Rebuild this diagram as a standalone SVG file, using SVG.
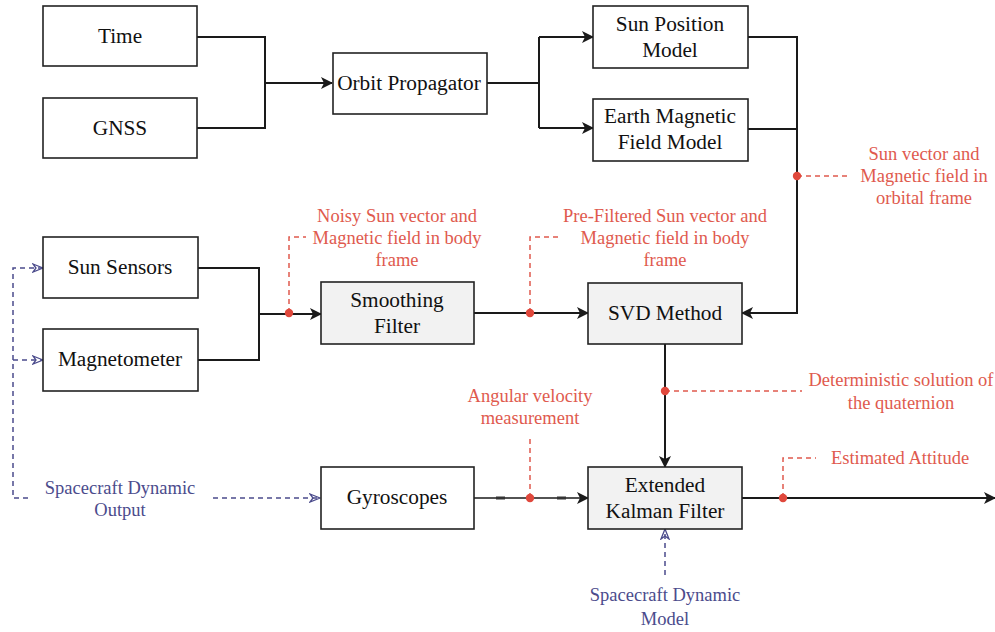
<svg xmlns="http://www.w3.org/2000/svg" width="995" height="632" viewBox="0 0 995 632">
<defs>
<style>
.box{fill:#ffffff;stroke:#222222;stroke-width:1.6}
.gbox{fill:#f2f2f2;stroke:#222222;stroke-width:1.6}
.bt{font-family:'Liberation Serif','Times New Roman',serif;font-size:21.3px;fill:#111111;text-anchor:middle}
.rt{font-family:'Liberation Serif','Times New Roman',serif;font-size:18.5px;fill:#e05a4e;text-anchor:middle}
.pt{font-family:'Liberation Serif','Times New Roman',serif;font-size:18.5px;fill:#4b4b8c;text-anchor:middle}
.ln{fill:none;stroke:#1a1a1a;stroke-width:2}
.rd{fill:none;stroke:#e05a4e;stroke-width:1.5;stroke-dasharray:5 4}
.bd{fill:none;stroke:#4b4b8c;stroke-width:1.5;stroke-dasharray:5 4}
.dot{fill:#e0483c}
</style>
<marker id="ah" viewBox="0 0 12 12" refX="11" refY="6" markerWidth="12" markerHeight="12" markerUnits="userSpaceOnUse" orient="auto">
<path d="M0,0 L12,6 L0,12 L3,6 Z" fill="#1a1a1a"/>
</marker>
<marker id="ob" viewBox="0 0 12 10" refX="11" refY="5" markerWidth="12" markerHeight="10" markerUnits="userSpaceOnUse" orient="auto">
<path d="M1,1 L11,5 L1,9 L4,5 Z" fill="none" stroke="#4b4b8c" stroke-width="1.3"/>
</marker>
</defs>
<rect width="995" height="632" fill="#ffffff"/>

<g id="connectors">
<path class="ln" d="M197,37 H265 V128 H197"/>
<path class="ln" d="M265,83 H332" marker-end="url(#ah)"/>
<path class="ln" d="M487,83 H539"/>
<path class="ln" d="M539,37 V128"/>
<path class="ln" d="M539,37 H593" marker-end="url(#ah)"/>
<path class="ln" d="M539,128 H593" marker-end="url(#ah)"/>
<path class="ln" d="M748,37 H797 V313 H742" marker-end="url(#ah)"/>
<path class="ln" d="M748,129 H797"/>
<path class="ln" d="M198,268 H259 V360 H198"/>
<path class="ln" d="M259,314 H321" marker-end="url(#ah)"/>
<path class="ln" d="M474,313 H588" marker-end="url(#ah)"/>
<path class="ln" d="M665,344 V467" marker-end="url(#ah)"/>
<path fill="none" stroke="#1a1a1a" stroke-width="1.5" d="M474,498 H588" marker-end="url(#ah)"/>
<rect x="496" y="496.5" width="9" height="3" fill="#333333"/>
<rect x="557" y="496.5" width="9" height="3" fill="#333333"/>
<path class="ln" d="M742,498 H995" marker-end="url(#ah)"/>
<path class="bd" d="M28,498 H13 V268 H43" marker-end="url(#ob)"/>
<path class="bd" d="M13,360 H43" marker-end="url(#ob)"/>
<path class="bd" d="M213,498 H320" marker-end="url(#ob)"/>
<path class="bd" d="M665,575 V529" marker-end="url(#ob)"/>
<path class="rd" d="M289,313 V237 H306"/>
<path class="rd" d="M530,313 V237 H560"/>
<path class="rd" d="M797,176 H847"/>
<path class="rd" d="M665,391 H802"/>
<path class="rd" d="M530,498 V437"/>
<path class="rd" d="M783,498 V458 H816"/>
<circle class="dot" cx="289" cy="313" r="4.2"/>
<circle class="dot" cx="530" cy="313" r="4.2"/>
<circle class="dot" cx="797" cy="176" r="4.2"/>
<circle class="dot" cx="665" cy="391" r="4.2"/>
<circle class="dot" cx="530" cy="498" r="4.2"/>
<circle class="dot" cx="783" cy="498" r="4.2"/>
</g>

<g id="time"><rect class="box" x="43" y="6" width="154" height="60"/><text class="bt" x="120" y="43">Time</text></g>
<g id="gnss"><rect class="box" x="43" y="98" width="154" height="60"/><text class="bt" x="120" y="135">GNSS</text></g>
<g id="orbit"><rect class="box" x="333" y="53" width="154" height="61"/><text class="bt" x="409" y="90">Orbit Propagator</text></g>
<g id="sunpos"><rect class="box" x="593" y="6" width="155" height="62"/><text class="bt" x="670" y="31">Sun Position</text><text class="bt" x="670" y="57">Model</text></g>
<g id="earthmag"><rect class="box" x="593" y="99" width="155" height="62"/><text class="bt" x="670" y="123">Earth Magnetic</text><text class="bt" x="670" y="149">Field Model</text></g>
<g id="sunsensors"><rect class="box" x="43" y="237" width="155" height="61"/><text class="bt" x="120" y="274">Sun Sensors</text></g>
<g id="magnetometer"><rect class="box" x="43" y="329" width="155" height="62"/><text class="bt" x="120" y="366">Magnetometer</text></g>
<g id="smoothing"><rect class="gbox" x="321" y="282" width="153" height="62"/><text class="bt" x="397" y="307">Smoothing</text><text class="bt" x="397" y="333">Filter</text></g>
<g id="svd"><rect class="gbox" x="588" y="283" width="154" height="61"/><text class="bt" x="665" y="320">SVD Method</text></g>
<g id="gyroscopes"><rect class="box" x="321" y="467" width="153" height="62"/><text class="bt" x="397" y="504">Gyroscopes</text></g>
<g id="ekf"><rect class="gbox" x="588" y="467" width="154" height="62"/><text class="bt" x="665" y="492">Extended</text><text class="bt" x="665" y="518">Kalman Filter</text></g>

<g id="labels">
<text class="rt" x="397" y="222">Noisy Sun vector and</text>
<text class="rt" x="397" y="244">Magnetic field in body</text>
<text class="rt" x="397" y="266">frame</text>
<text class="rt" x="665" y="222">Pre-Filtered Sun vector and</text>
<text class="rt" x="665" y="244">Magnetic field in body</text>
<text class="rt" x="665" y="266">frame</text>
<text class="rt" x="924" y="160">Sun vector and</text>
<text class="rt" x="924" y="182">Magnetic field in</text>
<text class="rt" x="924" y="204">orbital frame</text>
<text class="rt" x="901" y="386">Deterministic solution of</text>
<text class="rt" x="901" y="409">the quaternion</text>
<text class="rt" x="530" y="402">Angular velocity</text>
<text class="rt" x="530" y="424">measurement</text>
<text class="rt" x="900" y="464">Estimated Attitude</text>
<text class="pt" x="120" y="494">Spacecraft Dynamic</text>
<text class="pt" x="120" y="516">Output</text>
<text class="pt" x="665" y="601">Spacecraft Dynamic</text>
<text class="pt" x="665" y="625">Model</text>
</g>
</svg>
